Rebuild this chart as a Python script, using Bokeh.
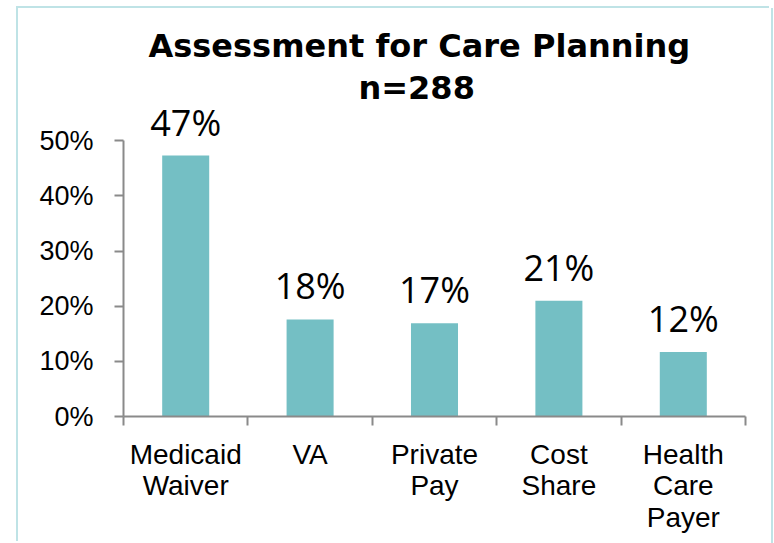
from bokeh.plotting import figure
from bokeh.models import (Range1d, FixedTicker, NumeralTickFormatter, ColumnDataSource,
                          LabelSet, Title)
from bokeh.core.properties import value
from bokeh.embed import file_html
from bokeh.resources import INLINE

categories = ["Medicaid\nWaiver", "VA", "Private\nPay", "Cost\nShare", "Health\nCare\nPayer"]
values = [0.473, 0.176, 0.169, 0.210, 0.117]
value_labels = ["47%", "18%", "17%", "21%", "12%"]
y_ticks = [0.0, 0.1, 0.2, 0.3, 0.4, 0.5]
title_text = "Assessment for Care Planning"
subtitle_text = "n=288"

BAR_COLOR = "#74BFC4"
AXIS_COLOR = "#8a8a8a"
BORDER_COLOR = "#BFE3E6"

centers = [i + 0.5 for i in range(len(categories))]
src = ColumnDataSource(dict(x=centers, top=values, lab=value_labels))

p = figure(width=753, height=535, output_backend="svg", toolbar_location=None,
           x_range=Range1d(0, len(categories)), y_range=Range1d(0, 0.562),
           min_border_left=105, min_border_right=26, min_border_top=98,
           min_border_bottom=127)
p.margin = (8, 0, 0, 18)
p.styles = {"box-shadow": f"-2px -2px 0 0 {BORDER_COLOR}, 2px 0 0 0 {BORDER_COLOR}"}
p.title = None
p.add_layout(Title(text=subtitle_text, align="left", text_font="DejaVu Sans",
                   text_font_size="32px", text_font_style="bold", text_color="#000000",
                   offset=235, standoff=0), "above")
p.add_layout(Title(text=title_text, align="left", text_font="DejaVu Sans",
                   text_font_size="32px", text_font_style="bold", text_color="#000000",
                   offset=25, standoff=3), "above")

p.vbar(x="x", top="top", width=0.378, bottom=0, source=src,
       fill_color=BAR_COLOR, line_color=None)

labels = LabelSet(x="x", y="top", text="lab", source=src, text_align="center",
                  text_baseline="alphabetic", y_offset=20, text_font=value("Open Sans"),
                  text_font_size=value("36px"), text_color="#000000")
p.add_layout(labels)

p.xgrid.visible = False
p.ygrid.visible = False
p.outline_line_color = None
p.background_fill_color = "white"
p.border_fill_color = "white"

# y axis
ya = p.yaxis[0]
ya.ticker = FixedTicker(ticks=y_ticks, minor_ticks=[])
ya.formatter = NumeralTickFormatter(format="0%")
ya.bounds = (0, 0.5)
ya.axis_line_color = AXIS_COLOR
ya.axis_line_width = 2
ya.major_tick_line_color = AXIS_COLOR
ya.major_tick_line_width = 2
ya.major_tick_in = 0
ya.major_tick_out = 9
ya.minor_tick_line_color = None
ya.major_label_standoff = 21
ya.major_label_text_font = "Liberation Sans"
ya.major_label_text_font_size = "27px"
ya.major_label_text_color = "#000000"

# x axis
xa = p.xaxis[0]
xa.ticker = FixedTicker(ticks=centers, minor_ticks=list(range(len(categories) + 1)))
xa.major_label_overrides = {c: lab for c, lab in zip(centers, categories)}
xa.axis_line_color = AXIS_COLOR
xa.axis_line_width = 2
xa.major_tick_line_color = None
xa.major_tick_in = 0
xa.major_tick_out = 0
xa.minor_tick_line_color = AXIS_COLOR
xa.minor_tick_line_width = 2
xa.minor_tick_in = 0
xa.minor_tick_out = 9
xa.major_label_standoff = 13
xa.major_label_text_font = "Liberation Sans"
xa.major_label_text_font_size = "28px"
xa.major_label_text_color = "#000000"
xa.major_label_text_line_height = 1.02

open("out.html", "w").write(file_html(p, INLINE))
